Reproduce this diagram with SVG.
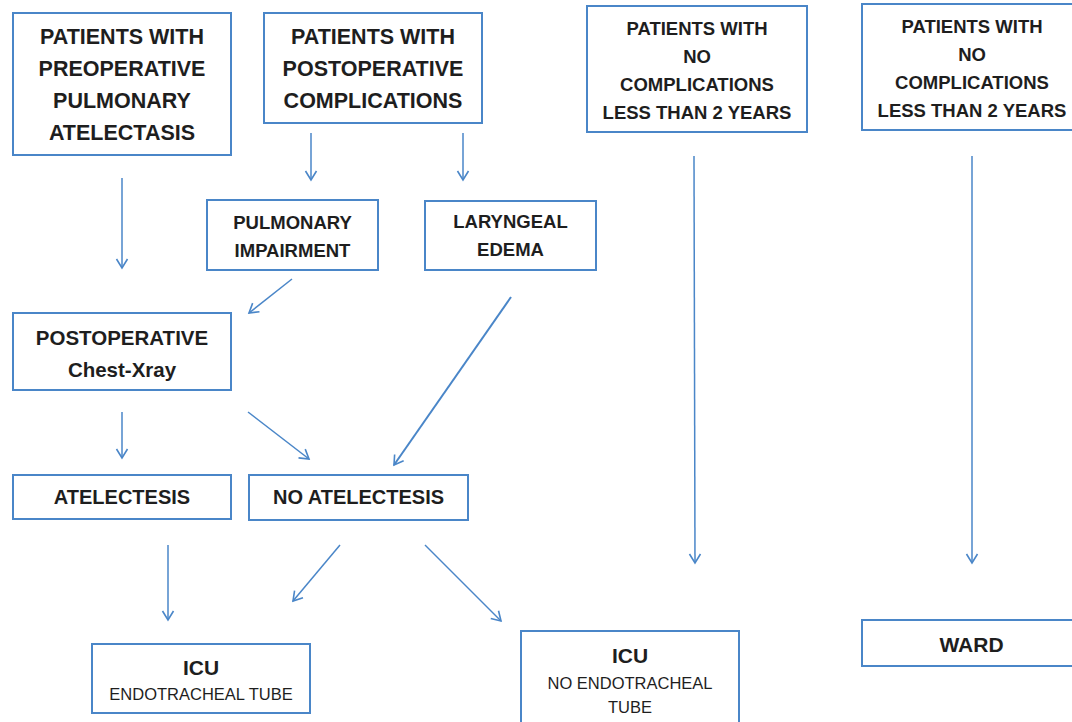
<svg xmlns="http://www.w3.org/2000/svg" width="1072" height="722" viewBox="0 0 1072 722">
<style>
.box{fill:#ffffff;stroke:#4a86c8;stroke-width:2}
.t{font-family:"Liberation Sans",Arial,sans-serif;font-weight:bold;fill:#1e1e1e;text-anchor:middle}
.r{font-family:"Liberation Sans",Arial,sans-serif;fill:#1e1e1e;text-anchor:middle}
.a{stroke:#4a86c8;stroke-width:1.5;fill:none;marker-end:url(#ah)}
</style>
<defs>
<marker id="ah" markerUnits="userSpaceOnUse" markerWidth="16" markerHeight="16" viewBox="-12 -8 16 16" refX="0" refY="0" orient="auto">
<path d="M-9,-5.5 L0,0 L-9,5.5" fill="none" stroke="#4a86c8" stroke-width="1.6"/>
</marker>
</defs>
<rect width="1072" height="722" fill="#ffffff"/>

<g id="preop">
<rect class="box" x="13" y="13" width="218" height="142"/>
<text class="t" font-size="21.5" x="122" y="44">PATIENTS WITH</text>
<text class="t" font-size="21.5" x="122" y="76">PREOPERATIVE</text>
<text class="t" font-size="21.5" x="122" y="108">PULMONARY</text>
<text class="t" font-size="21.5" x="122" y="140">ATELECTASIS</text>
</g>

<g id="postop">
<rect class="box" x="264" y="13" width="218" height="110"/>
<text class="t" font-size="21.5" x="373" y="44">PATIENTS WITH</text>
<text class="t" font-size="21.5" x="373" y="76">POSTOPERATIVE</text>
<text class="t" font-size="21.5" x="373" y="108">COMPLICATIONS</text>
</g>

<g id="pulm">
<rect class="box" x="207" y="200" width="171" height="70"/>
<text class="t" font-size="18.5" x="292.5" y="229">PULMONARY</text>
<text class="t" font-size="18.5" x="292.5" y="257">IMPAIRMENT</text>
</g>

<g id="laryngeal">
<rect class="box" x="425" y="201" width="171" height="69"/>
<text class="t" font-size="18.5" x="510.5" y="228">LARYNGEAL</text>
<text class="t" font-size="18.5" x="510.5" y="256">EDEMA</text>
</g>

<g id="nocomp1">
<rect class="box" x="587" y="6" width="220" height="126"/>
<text class="t" font-size="18.5" x="697" y="35">PATIENTS WITH</text>
<text class="t" font-size="18.5" x="697" y="63">NO</text>
<text class="t" font-size="18.5" x="697" y="91">COMPLICATIONS</text>
<text class="t" font-size="18.5" x="697" y="119">LESS THAN 2 YEARS</text>
</g>

<g id="nocomp2">
<rect class="box" x="862" y="4" width="220" height="126"/>
<text class="t" font-size="18.5" x="972" y="33">PATIENTS WITH</text>
<text class="t" font-size="18.5" x="972" y="61">NO</text>
<text class="t" font-size="18.5" x="972" y="89">COMPLICATIONS</text>
<text class="t" font-size="18.5" x="972" y="117">LESS THAN 2 YEARS</text>
</g>

<g id="chest">
<rect class="box" x="13" y="313" width="218" height="77"/>
<text class="t" font-size="20.5" x="122" y="345">POSTOPERATIVE</text>
<text class="t" font-size="20.5" x="122" y="377">Chest-Xray</text>
</g>

<g id="atel">
<rect class="box" x="13" y="475" width="218" height="44"/>
<text class="t" font-size="20" x="122" y="504">ATELECTESIS</text>
</g>

<g id="noatel">
<rect class="box" x="249" y="475" width="219" height="45"/>
<text class="t" font-size="20" x="358.5" y="504">NO ATELECTESIS</text>
</g>

<g id="icu1">
<rect class="box" x="92" y="644" width="218" height="69"/>
<text class="t" font-size="21" x="201" y="675">ICU</text>
<text class="r" font-size="16.5" x="201" y="700">ENDOTRACHEAL TUBE</text>
</g>

<g id="icu2">
<rect class="box" x="521" y="631" width="218" height="100"/>
<text class="t" font-size="21" x="630" y="663">ICU</text>
<text class="r" font-size="16.5" x="630" y="689">NO ENDOTRACHEAL</text>
<text class="r" font-size="16.5" x="630" y="713">TUBE</text>
</g>

<g id="ward">
<rect class="box" x="862" y="620" width="220" height="46"/>
<text class="t" font-size="21" x="971.5" y="652">WARD</text>
</g>

<g id="connectors">
<line class="a" x1="122" y1="178" x2="122" y2="268"/>
<line class="a" x1="311" y1="133" x2="311" y2="180"/>
<line class="a" x1="463" y1="133" x2="463" y2="180"/>
<line class="a" x1="292" y1="279" x2="249" y2="313"/>
<line class="a" x1="511" y1="297" x2="394" y2="465" style="stroke-width:2"/>
<line class="a" x1="694" y1="156" x2="695" y2="563"/>
<line class="a" x1="972" y1="156" x2="972" y2="563"/>
<line class="a" x1="122" y1="412" x2="122" y2="458"/>
<line class="a" x1="248" y1="412" x2="309" y2="459"/>
<line class="a" x1="168" y1="545" x2="168" y2="620"/>
<line class="a" x1="340" y1="545" x2="293" y2="601"/>
<line class="a" x1="425" y1="545" x2="501" y2="621"/>
</g>
</svg>
